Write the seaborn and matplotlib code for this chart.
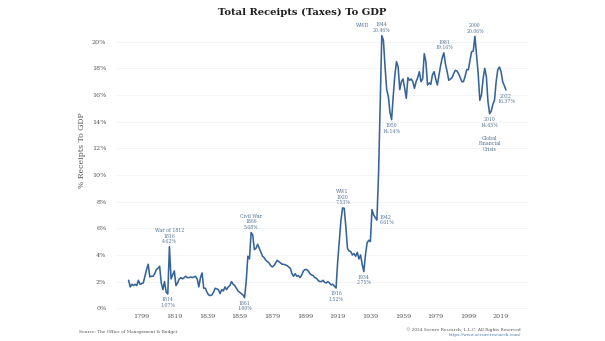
import numpy as np
import pandas as pd
import matplotlib
matplotlib.use("Agg")
import matplotlib.pyplot as plt
import seaborn as sns

years = list(range(1791, 2023))
receipts = [
    2.1, 1.6, 1.8, 1.7, 1.8, 1.7, 2.1, 1.8, 1.85,          # 1791-1799
    1.9, 2.4, 2.9, 3.3, 2.35, 2.4, 2.4, 2.6, 2.9, 3.0,      # 1800-1809
    3.15, 1.9, 1.4, 2.0, 1.2, 1.07, 4.62, 2.2, 2.5, 2.8,    # 1810-1819
    1.7, 1.9, 2.2, 2.3, 2.2, 2.3, 2.4, 2.3, 2.3, 2.35,      # 1820-1829
    2.3, 2.35, 2.4, 2.2, 1.6, 2.3, 2.65, 1.5, 1.5, 1.2,     # 1830-1839
    1.0, 0.95, 1.0, 1.2, 1.5, 1.45, 1.4, 1.1, 1.4, 1.3,     # 1840-1849
    1.6, 1.4, 1.6, 1.7, 2.0, 1.8, 1.7, 1.5, 1.3, 1.2,       # 1850-1859
    1.1, 1.0, 0.8, 2.0, 3.9, 3.7, 5.68, 5.5, 4.4, 4.5,      # 1860-1869
    4.8, 4.5, 4.2, 3.9, 3.8, 3.6, 3.5, 3.4, 3.2, 3.1,       # 1870-1879
    3.2, 3.4, 3.6, 3.5, 3.4, 3.3, 3.3, 3.25, 3.2, 3.1,      # 1880-1889
    3.0, 2.6, 2.4, 2.6, 2.4, 2.45, 2.3, 2.5, 2.8, 2.9,      # 1890-1899
    2.9, 2.8, 2.6, 2.5, 2.45, 2.3, 2.25, 2.1, 2.0, 2.0,     # 1900-1909
    2.1, 1.95, 1.9, 2.0, 1.9, 1.75, 1.8, 1.65, 1.52, 3.5,   # 1910-1919
    5.0, 6.6, 7.53, 7.5, 6.1, 4.5, 4.3, 4.25, 4.0, 4.1,     # 1920-1929
    3.9, 4.2, 3.7, 4.0, 3.3, 2.75, 4.0, 4.9, 5.1, 5.0,      # 1930-1939
    7.4, 7.0, 6.8, 6.61, 10.0, 15.2, 20.46, 20.1, 18.1, 16.4,  # 1940-1949
    15.9, 14.7, 14.14, 15.9, 17.5, 18.5, 18.1, 16.4, 17.0, 17.2,  # 1950-1959
    16.5, 15.75, 17.3, 17.1, 17.2, 17.0, 16.5, 17.0, 17.3, 17.75,  # 1960-1969
    17.0, 17.2, 19.1, 18.5, 16.75, 16.9, 16.8, 17.5, 17.75, 17.2,  # 1970-1979
    16.75, 17.5, 18.2, 18.8, 19.16, 18.3, 17.75, 17.1, 17.2, 17.3,  # 1980-1989
    17.6, 17.85, 17.8, 17.6, 17.3, 17.0, 17.0, 17.4, 17.9, 17.9,    # 1990-1999
    18.6, 19.25, 19.3, 20.4, 19.0, 17.6, 15.6, 16.0, 17.2, 18.0,    # 2000-2009
    17.4, 15.5, 14.6, 14.8, 15.3, 15.6, 17.0, 17.9, 18.1, 17.75,    # 2010-2019
    17.0, 16.7, 16.37,                                               # 2020-2022
]

x_ticks = [1799, 1819, 1839, 1859, 1879, 1899, 1919, 1939, 1959, 1979, 1999, 2019]
y_ticks = [0, 2, 4, 6, 8, 10, 12, 14, 16, 18, 20]
y_tick_labels = [f"{v}%" for v in y_ticks]

# annotations: (text, year, value, placement)
annotations = [
    ("War of 1812\n1816\n4.62%", 1816, 4.62, "above"),
    ("1814\n1.07%", 1815, 1.07, "below"),
    ("Civil War\n1866\n5.68%", 1866, 5.68, "above"),
    ("1861\n1.00%", 1862, 0.8, "below"),
    ("WW1\n1920\n7.53%", 1922, 7.53, "above"),
    ("1916\n1.52%", 1918, 1.52, "below"),
    ("1934\n2.75%", 1935, 2.75, "below"),
    ("1942\n6.61%", 1943, 6.61, "right"),
    ("1944\n20.46%", 1946, 20.46, "above"),
    ("1950\n14.14%", 1952, 14.14, "below"),
    ("1981\n19.16%", 1984, 19.16, "above"),
    ("2000\n20.06%", 2003, 20.4, "above"),
    ("2010\n14.65%", 2012, 14.6, "below"),
    ("2022\n16.37%", 2022, 16.37, "below"),
]

df = pd.DataFrame({"year": years, "receipts": receipts})

sns.set_theme(style="white")
plt.rcParams["font.family"] = ["DejaVu Serif"]

line_color = "#35649a"
ann_color = "#4d6f94"
text_color = "#555555"

fig = plt.figure(figsize=(6.05, 3.41), dpi=100)
ax = fig.add_axes([116 / 605, (341 - 309.6) / 341, (528 - 116) / 605, (309.6 - 15) / 341])

sns.lineplot(data=df, x="year", y="receipts", ax=ax, color=line_color, linewidth=1.15)

ax.set_xlim(1783.3, 2035.5)
ax.set_ylim(-0.1, 22)
ax.set_xticks(x_ticks)
ax.set_xticklabels([str(t) for t in x_ticks], fontsize=4.6, color=text_color)
ax.set_yticks(y_ticks)
ax.set_yticklabels(y_tick_labels, fontsize=4.6, color=text_color)
ax.tick_params(axis="both", length=0)
ax.tick_params(axis="y", pad=7)
ax.tick_params(axis="x", pad=3)
ax.grid(axis="y", color="#f2f2f2", linewidth=0.6)
ax.grid(axis="x", visible=False)
for s in ax.spines.values():
    s.set_visible(False)
ax.set_xlabel("")
ax.set_ylabel("% Receipts To GDP", fontsize=5.6, color=text_color)
ax.yaxis.set_label_coords(-0.073, 0.542)

fs = 3.3
for text, yr, val, pos in annotations:
    if pos == "above":
        ax.annotate(text, (yr, val), xytext=(0, 2), textcoords="offset points",
                    ha="center", va="bottom", fontsize=fs, color=ann_color, linespacing=1.1)
    elif pos == "below":
        ax.annotate(text, (yr, val), xytext=(0, -2.5), textcoords="offset points",
                    ha="center", va="top", fontsize=fs, color=ann_color, linespacing=1.1)
    else:
        ax.annotate(text, (yr, val), xytext=(2, 0), textcoords="offset points",
                    ha="left", va="center", fontsize=fs, color=ann_color, linespacing=1.1)

ax.annotate("WWII", (1946, 20.46), xytext=(-14, 7), textcoords="offset points",
            ha="center", va="center", fontsize=fs, color=ann_color)
ax.annotate("Global\nFinancial\nCrisis", (2012, 14.6), xytext=(0, -16), textcoords="offset points",
            ha="center", va="top", fontsize=fs, color=ann_color, linespacing=1.1)

fig.text(302 / 605, 1 - 12 / 341, "Total Receipts (Taxes) To GDP", ha="center", va="center",
         fontsize=7.2, fontweight="bold", color="#222222")
fig.text(79 / 605, 1 - 332.4 / 341, "Source: The Office of Management & Budget", ha="left",
         va="center", fontsize=3.1, color=text_color)
fig.text(521 / 605, 1 - 329.7 / 341, "\u00a9 2024 Secure Research, L.L.C. All Rights Reserved", ha="right",
         va="center", fontsize=3.1, color=text_color)
fig.text(521 / 605, 1 - 334.8 / 341, "https://www.secureresearch.com/", ha="right",
         va="center", fontsize=3.1, color="#4a7ab0")

fig.savefig("out.png", dpi=100, facecolor="white")
